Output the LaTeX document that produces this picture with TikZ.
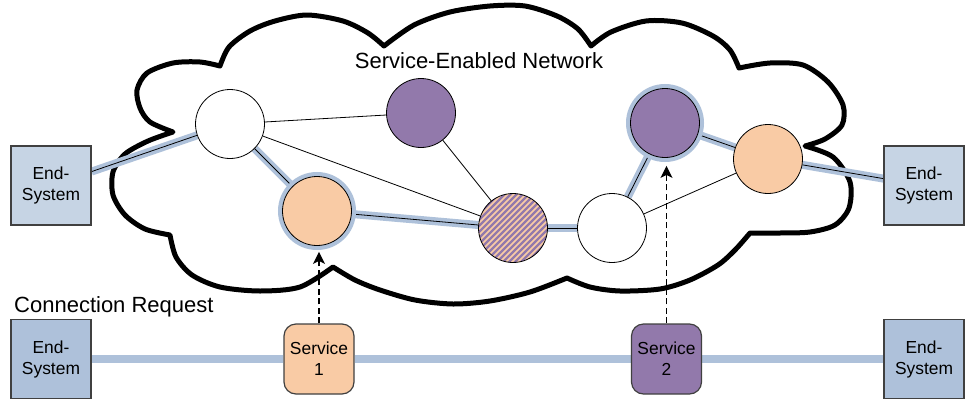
\documentclass[tikz,border=0pt]{standalone}
\usepackage{fontspec}
\setmainfont{Liberation Sans}
\usetikzlibrary{arrows.meta,backgrounds}
\definecolor{linkblue}{RGB}{174,193,218}
\definecolor{esTop}{RGB}{198,212,228}
\definecolor{esBot}{RGB}{174,193,218}
\definecolor{peach}{RGB}{249,203,165}
\definecolor{lav}{RGB}{146,121,171}
\definecolor{boxline}{RGB}{64,64,64}
\begin{document}
\begin{tikzpicture}[x=1pt,y=-1pt,
  net/.style={circle, draw=black, line width=0.8pt, minimum size=69pt, inner sep=0pt},
  halo/.style={preaction={draw=linkblue, line width=9pt}},
  endsys/.style={draw=boxline, line width=1.2pt, minimum width=80pt, minimum height=79pt, inner sep=0pt, align=center, font=\fontsize{17.4}{21}\selectfont},
  svc/.style={endsys, rounded corners=12pt, minimum width=70pt, minimum height=70pt},
  halolink/.style={draw=linkblue, line width=8pt},
  thinlink/.style={draw=black, line width=0.8pt},
  dasharrow/.style={draw=black, line width=1.6pt, dash pattern=on 6pt off 3.5pt, -{Stealth[length=12pt,width=12pt,inset=3pt]}},
  cloudline/.style={draw=black, line width=5pt, line join=round, fill=white},
  striped/.style={fill=peach, path picture={
     \foreach \i in {-96,-90,...,96}
       \draw[lav, line width=2.2pt] ([shift={(\i-50,50)}]path picture bounding box.center) -- ([shift={(\i+50,-50)}]path picture bounding box.center);}},
  lbl/.style={font=\fontsize{22}{26}\selectfont, inner sep=0pt}
]
\useasboundingbox (0,0) rectangle (969,402);

% nodes
\node[net, fill=white] (a) at (230,124) {};
\node[net, fill=lav] (b) at (421,113) {};
\node[net, fill=peach, halo] (c) at (317,211) {};
\node[net, striped] (d) at (513,228) {};
\node[net, fill=white] (e) at (612,228) {};
\node[net, fill=lav, halo] (f) at (665,123) {};
\node[net, fill=peach] (g) at (768,159) {};

\node[endsys, fill=esTop] (tl) at (51,185.5) {End-\\System};
\node[endsys, fill=esTop] (tr) at (924,185.5) {End-\\System};
\node[endsys, fill=esBot] (bl) at (51,359) {End-\\System};
\node[endsys, fill=esBot] (br) at (924,359) {End-\\System};
\node[svc, fill=peach] (s1) at (319,359) {Service\\1};
\node[svc, fill=lav] (s2) at (666.5,359) {Service\\2};

\node[lbl, anchor=base] (title) at (479,68) {Service-Enabled Network};
\node[lbl, anchor=base west] (req) at (14,312) {Connection Request};

\begin{pgfonlayer}{background}
  \draw[cloudline]
    plot[smooth] coordinates {(173,132) (150,122) (140,108) (137,90) (147,73) (173,63) (200,62) (220,66)}
    -- plot[smooth] coordinates {(220,66) (229,47) (250,31) (275,21) (307,15) (343,21) (368,33) (384,46)}
    -- plot[smooth] coordinates {(384,46) (414,25) (450,12) (490,6) (525,6) (557,16) (578,29) (591,46)}
    -- plot[smooth] coordinates {(591,46) (611,32) (646,21) (682,23) (713,36) (730,50) (739,68)}
    -- plot[smooth] coordinates {(739,68) (770,63) (803,65) (828,82) (843,105) (842,125) (825,139) (805,146)}
    -- plot[smooth] coordinates {(805,146) (833,157) (850,182) (849,208) (835,225) (810,232) (780,233) (750,233)}
    -- plot[smooth] coordinates {(750,233) (735,250) (718,265) (690,280) (660,289) (620,291) (590,287) (567,278)}
    -- plot[smooth] coordinates {(567,278) (530,292) (490,301) (453,304) (415,300) (380,290) (355,280) (333,267)}
    -- plot[smooth] coordinates {(333,267) (300,287) (260,291) (220,287) (192,275) (176,257) (170,235)}
    -- plot[smooth] coordinates {(170,235) (145,229) (125,215) (113,195) (113,172) (125,154) (148,141) (173,132)}
    -- cycle;
  % path through network
  \foreach \u/\v in {tl/a, a/c, c/d, d/e, e/f, f/g, g/tr}{
    \draw[halolink] (\u) -- (\v);
    \draw[thinlink] (\u) -- (\v);
  }
  \foreach \u/\v in {a/b, a/d, b/d, e/g}{
    \draw[thinlink] (\u) -- (\v);
  }
  % connection request line
  \draw[halolink] (bl) -- (s1);
  \draw[halolink] (s1) -- (s2);
  \draw[halolink] (s2) -- (br);
\end{pgfonlayer}

\draw[dasharrow, shorten >=6pt] (s1.north) -- (s1.north |- c.south);
\draw[dasharrow, shorten >=8pt] (s2.north) -- (s2.north |- f.south);
\end{tikzpicture}
\end{document}
